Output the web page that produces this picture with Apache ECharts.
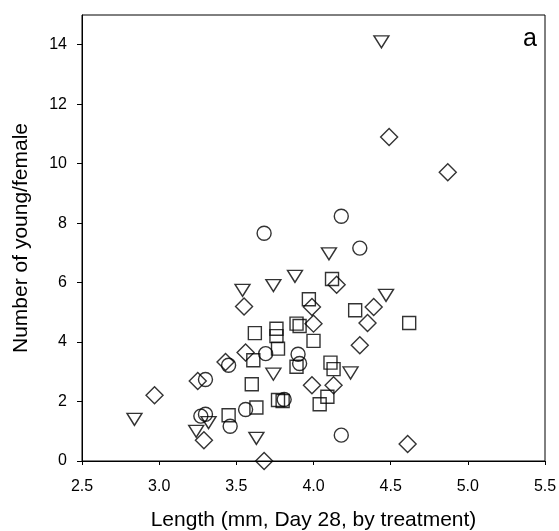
<!DOCTYPE html>
<html><head><meta charset="utf-8">
<script src="https://cdn.jsdelivr.net/npm/echarts@6/dist/echarts.min.js"></script>
<style>html,body{margin:0;padding:0;background:#fff}#c{width:559px;height:531px}</style>
</head><body><div id="c"></div>
<script>
const circles = [[3.68,7.66],[4.18,8.23],[4.30,7.16],[3.69,3.61],[3.45,3.22],[3.30,2.74],[3.56,1.73],[3.27,1.51],[3.30,1.57],[3.46,1.17],[3.90,3.59],[3.91,3.28],[3.81,2.07],[4.18,0.87]];
const squares = [[3.97,5.44],[4.12,6.12],[4.27,5.07],[4.62,4.64],[3.62,4.30],[3.76,4.45],[3.76,4.20],[3.77,3.78],[3.61,3.39],[3.60,2.58],[3.77,2.05],[3.63,1.80],[3.45,1.54],[3.89,4.62],[3.91,4.54],[4.00,4.04],[3.89,3.17],[4.11,3.31],[4.13,3.09],[4.09,2.16],[4.04,1.91],[3.80,2.02]];
const diamonds = [[4.49,10.9],[4.87,9.71],[3.55,5.2],[3.99,5.18],[4.00,4.62],[4.15,5.93],[4.39,5.18],[4.35,4.64],[4.30,3.89],[3.56,3.65],[3.43,3.33],[3.25,2.69],[2.97,2.21],[3.99,2.55],[4.13,2.55],[3.29,0.70],[3.68,0.0],[4.61,0.57]];
const triangles = [[4.44,14.1],[3.54,5.74],[3.74,5.9],[3.88,6.21],[4.10,6.97],[4.47,5.57],[3.74,2.92],[4.24,2.96],[2.84,1.40],[3.32,1.29],[3.24,1.0],[3.63,0.76]];
const xName = 'Length (mm, Day 28, by treatment)';
const yName = 'Number of young/female';
const panelLabel = 'a';

const chart = echarts.init(document.getElementById('c'));
const ms = {color:'rgba(0,0,0,0)', borderColor:'#000', borderWidth:1.4};
const F = 'Liberation Sans, Arial, sans-serif';
chart.setOption({
  animation:false,
  grid:{left:82,right:14,top:15,bottom:70,show:true,borderColor:'#000',borderWidth:1,
    containLabel:false,outerBoundsMode:'none'},
  xAxis:{type:'value',min:2.5,max:5.5,interval:0.5,
    name:xName,nameLocation:'middle',nameGap:49,
    nameTextStyle:{fontFamily:F,fontSize:21,color:'#000'},
    axisLine:{lineStyle:{color:'#000'}},axisTick:{length:4,lineStyle:{color:'#000'}},
    splitLine:{show:false},
    axisLabel:{fontFamily:F,fontSize:16,color:'#000',margin:18,formatter:v=>v.toFixed(1)}},
  yAxis:{type:'value',min:0,max:15,interval:2,
    name:yName,nameLocation:'middle',nameGap:50,
    nameTextStyle:{fontFamily:F,fontSize:21,color:'#000'},
    axisLine:{lineStyle:{color:'#000'}},axisTick:{length:5,lineStyle:{color:'#000'}},
    splitLine:{show:false},
    axisLabel:{fontFamily:F,fontSize:16,color:'#000',margin:15,showMaxLabel:false,
      formatter:v=>(v>14?'':String(v))}},
  graphic:[{type:'text',right:22,top:27,style:{text:panelLabel,font:'25px '+F,fill:'#000'}}],
  series:[
    {type:'scatter',data:circles,symbol:'circle',symbolSize:14,itemStyle:ms},
    {type:'scatter',data:squares,symbol:'rect',symbolSize:13,itemStyle:ms},
    {type:'scatter',data:diamonds,symbol:'diamond',symbolSize:[17,17],itemStyle:ms},
    {type:'scatter',data:triangles,symbol:'triangle',symbolRotate:180,symbolSize:[15,12],itemStyle:ms}
  ]
});
</script></body></html>
